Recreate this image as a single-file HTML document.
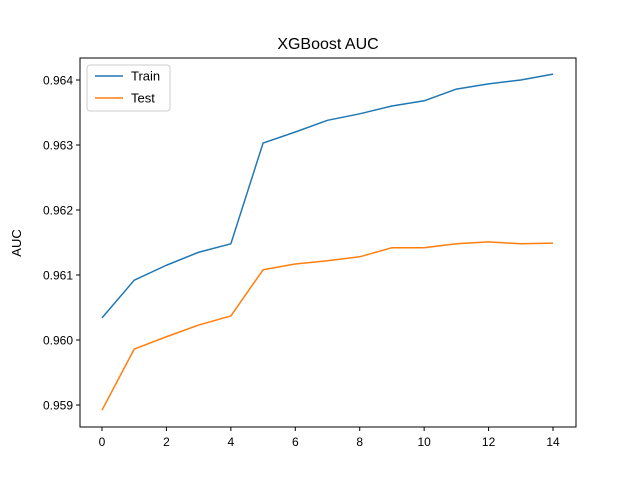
<!DOCTYPE html>
<html><head><meta charset="utf-8"><style>
body{margin:0;background:#fff;}
svg{display:block;font-family:"Liberation Sans","DejaVu Sans",sans-serif;}
</style></head><body>
<svg id="chart" width="640" height="480">
<rect width="640" height="480" fill="#fff"/>
<text x="328" y="49" text-anchor="middle" font-size="16">XGBoost AUC</text>
<text transform="translate(21,243) rotate(-90)" text-anchor="middle" font-size="13">AUC</text>
<g id="plot"></g>
<rect x="80" y="58" width="496" height="369" fill="none" stroke="#000" stroke-width="1"/>
<g>
<rect x="87" y="65" width="83" height="46" rx="3" fill="#fff" stroke="#ccc"/>
<g>
<line x1="95" y1="76" x2="123" y2="76" stroke="#1f77b4" stroke-width="1.5"/>
<text x="131" y="80.5" font-size="13">Train</text></g>
<g>
<line x1="95" y1="98" x2="123" y2="98" stroke="#ff7f0e" stroke-width="1.5"/>
<text x="131" y="102.5" font-size="13">Test</text></g>
</g>
</svg>
<script>
const epochs=[0,1,2,3,4,5,6,7,8,9,10,11,12,13,14];
const trainAUC=[0.96034,0.96092,0.96115,0.96135,0.96148,0.96303,0.96320,0.96338,0.96348,0.96360,0.96368,0.96386,0.96394,0.96400,0.96409];
const testAUC=[0.95892,0.95986,0.96005,0.96023,0.96037,0.96108,0.96117,0.96122,0.96128,0.96142,0.96142,0.96148,0.96151,0.96148,0.96149];
const xTicks=[0,2,4,6,8,10,12,14];
const yTicks=[0.959,0.960,0.961,0.962,0.963,0.964];
const NS="http://www.w3.org/2000/svg";
const g=document.getElementById('plot');
function xs(v){return 102+v*(553-102)/14;}
function ys(v){return 80+(0.964-v)*65000;}
function mk(t,a){const e=document.createElementNS(NS,t);for(const k in a)e.setAttribute(k,a[k]);g.appendChild(e);return e;}
xTicks.forEach(t=>{
 const l=mk('line',{x1:xs(t),x2:xs(t),y1:427,y2:431,stroke:'#000'});
 
 
 const tx=mk('text',{x:xs(t),y:446,'text-anchor':'middle','font-size':'12'});
 tx.textContent=t;
 
 
});
yTicks.forEach(t=>{
 const l=mk('line',{x1:76,x2:80,y1:ys(t),y2:ys(t),stroke:'#000'});
 
 
 const tx=mk('text',{x:73,y:ys(t)+4.5,'text-anchor':'end','font-size':'12'});
 tx.textContent=t.toFixed(3);
 
 
});
function line(vals,color,name){
 const p=mk('polyline',{points:vals.map((v,i)=>xs(epochs[i])+','+ys(v)).join(' '),fill:'none',stroke:color,'stroke-width':1.5,'stroke-linejoin':'round'});
 
 
}
line(trainAUC,'#1f77b4','train-line');
line(testAUC,'#ff7f0e','test-line');
</script>
</body></html>
